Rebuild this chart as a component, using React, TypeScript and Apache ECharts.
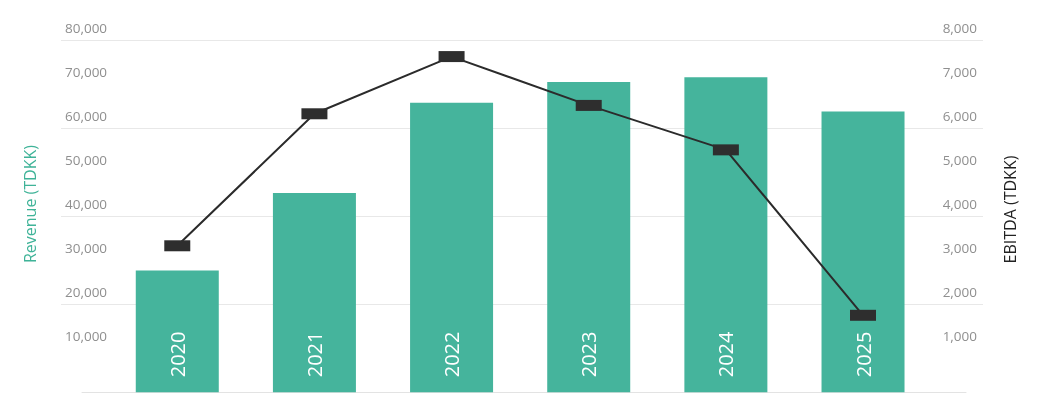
import React, { useEffect, useRef } from "react";
import * as echarts from "echarts";

const categories = ["2020", "2021", "2022", "2023", "2024", "2025"];
const revenue = [27700, 45300, 65800, 70500, 71600, 63800];
const ebitda = [3330, 6330, 7630, 6520, 5510, 1750];
const revenueMax = 80000;
const revenueStep = 10000;
const ebitdaMax = 8000;
const ebitdaStep = 1000;
const revenueTitle = "Revenue (TDKK)";
const ebitdaTitle = "EBITDA (TDKK)";

const FONT = '"Open Sans", "Noto Sans", sans-serif';
const fmt = (v: number) => (v === 0 ? "" : v.toLocaleString("en-US"));

export default function App() {
  const ref = useRef<HTMLDivElement>(null);
  useEffect(() => {
    if (!ref.current) return;
    const chart = echarts.init(ref.current, null, { renderer: "svg" });
    const tickLabel = {
      color: "#8f8f8f",
      fontSize: 13.5,
      fontFamily: FONT,
      verticalAlign: "bottom",
      lineHeight: 16,
      padding: [0, 0, 4, 0],
      formatter: fmt,
    };
    chart.setOption({
      animation: false,
      textStyle: { fontFamily: FONT },
      grid: [
        { left: 108.7, right: 109.4, top: 40.3, bottom: 20.7 },
        { left: 61, right: 58, top: 40.3, bottom: 20.7 },
        { left: 82, right: 75, top: 40.3, bottom: 20.7 },
      ],
      xAxis: [
        {
          type: "category",
          gridIndex: 0,
          data: categories,
          axisLine: { show: false },
          axisTick: { show: false },
          axisLabel: { show: false },
          splitLine: { show: false },
        },
        { type: "value", gridIndex: 1, show: false, min: 0, max: 1 },
        {
          type: "value",
          gridIndex: 2,
          min: 0,
          max: 1,
          axisLine: { show: true, lineStyle: { color: "#e3e3e3", width: 1 } },
          axisTick: { show: false },
          axisLabel: { show: false },
          splitLine: { show: false },
        },
      ],
      yAxis: [
        {
          type: "value",
          gridIndex: 0,
          position: "left",
          min: 0,
          max: revenueMax,
          interval: revenueStep,
          axisLine: { show: false },
          axisTick: { show: false },
          splitLine: { show: false },
          axisLabel: { ...tickLabel, align: "left", margin: 43.7 },
        },
        {
          type: "value",
          gridIndex: 0,
          position: "right",
          min: 0,
          max: ebitdaMax,
          interval: ebitdaStep,
          axisLine: { show: false },
          axisTick: { show: false },
          splitLine: { show: false },
          axisLabel: { ...tickLabel, align: "right", margin: 45.4 },
        },
        {
          type: "value",
          gridIndex: 1,
          min: 0,
          max: revenueMax,
          interval: revenueStep * 2,
          axisLine: { show: false },
          axisTick: { show: false },
          axisLabel: { show: false },
          splitLine: {
            show: true,
            showMinLine: false,
            lineStyle: { color: "#e8e8e8", width: 1 },
          },
        },
        { type: "value", gridIndex: 2, min: 0, max: 1, show: false },
      ],
      graphic: [
        {
          type: "text",
          x: 30,
          y: 204,
          rotation: Math.PI / 2,
          style: {
            text: revenueTitle,
            fill: "#3fb398",
            font: `500 16px ${FONT}`,
            align: "center",
            verticalAlign: "middle",
            textAlign: "center",
            textVerticalAlign: "middle",
          },
        },
        {
          type: "text",
          x: 1010,
          y: 209.5,
          rotation: Math.PI / 2,
          style: {
            text: ebitdaTitle,
            fill: "#222222",
            font: `500 16px ${FONT}`,
            align: "center",
            verticalAlign: "middle",
            textAlign: "center",
            textVerticalAlign: "middle",
          },
        },
      ],
      series: [
        {
          type: "bar",
          name: "Revenue",
          xAxisIndex: 0,
          yAxisIndex: 0,
          data: revenue,
          barWidth: 83,
          itemStyle: { color: "#45b49c" },
          label: {
            show: true,
            position: "insideBottom",
            rotate: 90,
            distance: 15,
            align: "left",
            verticalAlign: "middle",
            formatter: "{b}",
            color: "#ffffff",
            fontSize: 20,
            fontFamily: FONT,
          },
          z: 2,
        },
        {
          type: "line",
          name: "EBITDA",
          xAxisIndex: 0,
          yAxisIndex: 1,
          data: ebitda,
          symbol: "rect",
          symbolSize: [26, 11],
          lineStyle: { color: "#2b2b2b", width: 2 },
          itemStyle: { color: "#2e2e2e" },
          z: 3,
        },
      ],
    });
    return () => chart.dispose();
  }, []);
  return (
    <div
      ref={ref}
      style={{ position: "fixed", left: 0, top: 0, width: 1041, height: 413 }}
    />
  );
}
